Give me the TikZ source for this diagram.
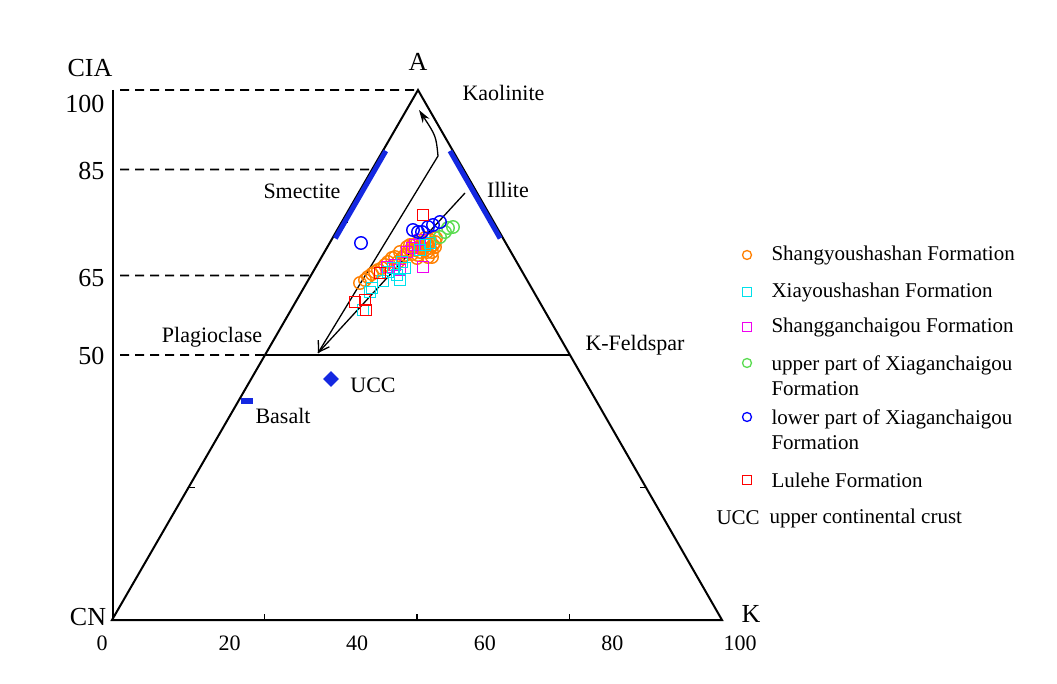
\documentclass[tikz,border=0pt]{standalone}
\usepackage{fontspec}
\setmainfont{Liberation Serif}
\usetikzlibrary{calc,shapes.geometric,arrows.meta}
\definecolor{orgc}{RGB}{255,128,0}
\definecolor{cync}{RGB}{0,225,235}
\definecolor{magc}{RGB}{240,0,240}
\definecolor{grnc}{RGB}{90,220,80}
\definecolor{bluc}{RGB}{0,0,255}
\definecolor{redc}{RGB}{255,0,0}
\definecolor{barblue}{RGB}{20,40,225}

\begin{document}
\begin{tikzpicture}[x=1pt,y=-1pt,
  lbl/.style={font=\fontsize{22}{26}\selectfont},
  axl/.style={font=\fontsize{26}{30}\selectfont},
  leg/.style={font=\fontsize{21}{25}\selectfont, anchor=west, align=left},
  tri/.style={line width=2pt},
  dashln/.style={line width=1.6pt, dash pattern=on 9pt off 6pt},
  bar/.style={line width=5pt, draw=barblue},
  circ/.style={circle, draw=#1, line width=1.4pt, inner sep=0pt, minimum size=12.5pt},
  sqr/.style={rectangle, draw=#1, line width=1.4pt, inner sep=0pt, minimum size=11pt},
  lcirc/.style={circle, draw=#1, line width=1.3pt, inner sep=0pt, minimum size=9pt},
  lsqr/.style={rectangle, draw=#1, line width=1.3pt, inner sep=0pt, minimum size=8.5pt}]
  \useasboundingbox[fill=white] (0,0) rectangle (1057,684);

  \coordinate (CNv) at (112,620);
  \coordinate (Kv) at (722,620);
  \coordinate (Av) at (418,90);
  \coordinate (AxTop) at (113,90);

  \draw[tri] (Av) -- (CNv) -- (Kv) -- cycle;
  \draw[line width=2.6pt] (AxTop) -- (113,621);
  \draw[tri] ($(CNv)!0.5!(Av)$) -- ($(Kv)!0.5!(Av)$);

  \foreach \c/\ly in {50/356,65/278,85/171,100/104} {
    \draw[dashln] (120,{620-5.3*\c}) -- ($(CNv)!{\c/100}!(Av)$);
    \node (T\c) [axl, anchor=east] at (108,\ly) {\c};
  }
  \foreach \s in {0.25,0.5,0.75} {
    \draw[line width=1.5pt] ($(CNv)!\s!(Kv)$) -- ++(0,-6);
    \draw[line width=1.5pt] ($(CNv)!\s!(Av)$) -- ++(6,0);
    \draw[line width=1.5pt] ($(Kv)!\s!(Av)$) -- ++(-6,0);
  }
  \foreach \v in {0,20,...,100}
    \node (N\v) [lbl] at ({102+6.38*\v},643) {\v};

  \draw[bar] ($(CNv)!0.72!(Av)+(3,0)$) -- ($(CNv)!0.885!(Av)+(3,0)$);
  \draw[bar] ($(Kv)!0.72!(Av)+(-3,0)$) -- ($(Kv)!0.885!(Av)+(-3,0)$);

  \coordinate (Tip) at (318,353);
  \coordinate (Bend) at (438,156);
  \coordinate (Top) at (419,110);
  \coordinate (IlliteEnd) at (465,193);
  \draw[line width=1.3pt, {Straight Barb[length=10pt,width=13pt]}-{Stealth[length=13pt,width=8pt]}]
    (Tip) -- (Bend) .. controls (436,136) .. (Top);
  \draw[line width=1.3pt] (IlliteEnd) -- (Tip);

  \foreach \x/\y [count=\i] in {360/283,365/280,368/277,372/274,378/270,385/265,392/258,395/257,
      398/262,388/262,400/252,402/258,405/255,407/247,410/250,410/245,413/245,415/250,417/243,
      417/258,420/247,420/252,423/242,425/250,425/238,428/257,428/245,430/240,432/252,433/245,
      435/242,435/247,432/257,418/255,422/248,426/244,430/248,412/254,408/252,427/252,436/238,
      382/268,375/272}
    \node (Or\i) [circ=orgc] at (\x,\y) {};
  \foreach \x/\y [count=\i] in {423/267,387/267,400/270,407/252,412/248,415/245,420/240,395/265}
    \node (Mg\i) [sqr=magc] at (\x,\y) {};
  \foreach \x/\y [count=\i] in {363/310,370/292,372/288,383/281,388/272,393/268,397/275,400/280,
      402/262,405/268,420/250,425/245,430/243}
    \node (Cy\i) [sqr=cync] at (\x,\y) {};
  \foreach \x/\y [count=\i] in {440/237,445/232,448/228,453/227}
    \node (Gr\i) [circ=grnc] at (\x,\y) {};
  \foreach \x/\y [count=\i] in {413/230,418/232,422/232,428/227,433/225,440/222,361/243}
    \node (Bl\i) [circ=bluc] at (\x,\y) {};
  \foreach \x/\y [count=\i] in {423/215,355/302,365/300,366/310,380/273}
    \node (Rd\i) [sqr=redc] at (\x,\y) {};

  \node (BasaltPt) [fill=barblue, minimum width=12pt, minimum height=6.5pt, inner sep=0pt] at (247,401) {};
  \node (UCCPt) [diamond, fill=barblue, minimum size=16pt, inner sep=0pt] at (331,379) {};

  \node (CIA) [axl] at (90,68) {CIA};
  \node (A) [axl] at (418,62) {A};
  \node (CN) [axl] at (88,617) {CN};
  \node (K) [axl] at (751,614) {K};
  \node (Kaolinite) [lbl, anchor=west] at (459,93) {Kaolinite};
  \node (Smectite) [lbl] at (302,191) {Smectite};
  \node (Illite) [lbl] at (508,190) {Illite};
  \node (Plagioclase) [lbl] at (212,337) {Plagioclase};
  \node (KFeldspar) [lbl] at (635,345) {K-Feldspar};
  \node (UCC) [lbl] at (373,385) {UCC};
  \node (Basalt) [lbl] at (283,416) {Basalt};

  \node (L1m) [lcirc=orgc] at (747,255) {};
  \node (L1) [leg] at (768,255) {Shangyoushashan Formation};
  \node (L2m) [lsqr=cync] at (747,292) {};
  \node (L2) [leg] at (768,292) {Xiayoushashan Formation};
  \node (L3m) [lsqr=magc] at (747,327) {};
  \node (L3) [leg] at (768,327) {Shangganchaigou Formation};
  \node (L4m) [lcirc=grnc] at (747,363) {};
  \node (L4) [leg] at (768,375.5) {upper part of Xiaganchaigou\\Formation};
  \node (L5m) [lcirc=bluc] at (747,417) {};
  \node (L5) [leg] at (768,429.5) {lower part of Xiaganchaigou\\Formation};
  \node (L6m) [lsqr=redc] at (747,480) {};
  \node (L6) [leg] at (768,480) {Lulehe Formation};
  \node (L7m) [leg] at (713,518) {UCC};
  \node (L7) [leg] at (766,518) {upper continental crust};
\end{tikzpicture}
\end{document}
